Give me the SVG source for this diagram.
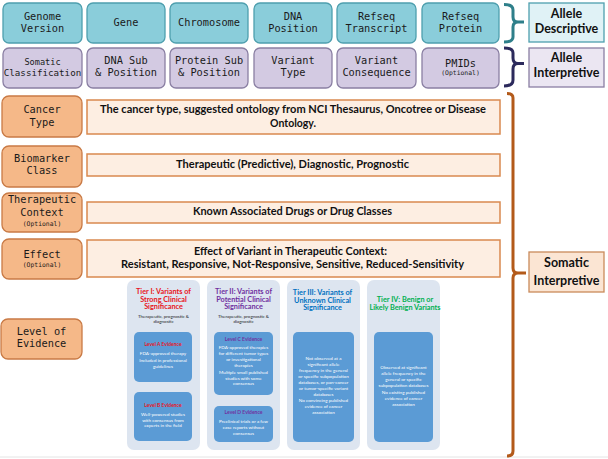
<svg xmlns="http://www.w3.org/2000/svg" width="608" height="459" viewBox="0 0 608 459">
<style>
.mono{font-family:"DejaVu Sans Mono","Liberation Mono",monospace;font-size:10.3px;fill:#1a1a1a;text-anchor:middle}
.opt{font-size:6.4px}
.teal{fill:#8acdda;stroke:#4e9fae;stroke-width:1.3}
.purp{fill:#d3cae2;stroke:#8a7fa3;stroke-width:1.3}
.orng{fill:#f5b888;stroke:#c97a45;stroke-width:1.3}
.wide{fill:#fdeee2;stroke:#d9894f;stroke-width:1.5}
.bold{font-family:Lato,"Liberation Sans",sans-serif;font-weight:bold;font-size:10.5px;fill:#111;text-anchor:middle}
.lbl{font-family:Lato,"Liberation Sans",sans-serif;font-weight:bold;font-size:12.5px;fill:#111;text-anchor:middle}
.br{fill:none;stroke-width:3;stroke-linejoin:round}
.col{fill:#dde5f0}
.ibox{fill:#5b9bd5}
.th{font-family:Lato,"Liberation Sans",sans-serif;font-weight:bold;font-size:7.3px;text-anchor:middle}
.sub{font-family:Lato,"Liberation Sans",sans-serif;font-size:4.5px;fill:#222;text-anchor:middle}
.lv{font-family:Lato,"Liberation Sans",sans-serif;font-weight:bold;font-size:5px;text-anchor:middle}
.wt{font-family:Lato,"Liberation Sans",sans-serif;font-size:4.6px;fill:#fff;text-anchor:middle}
</style>
<rect width="608" height="459" fill="#fff"/>
<line x1="0" y1="457" x2="608" y2="457" stroke="#e4e4e4" stroke-width="1"/>

<!-- Row 1: allele descriptive -->
<g id="genome-version"><rect class="teal" x="3" y="3" width="79" height="40" rx="6"/><text class="mono" x="42.5" y="20">Genome</text><text class="mono" x="42.5" y="32">Version</text></g>
<g id="gene"><rect class="teal" x="87" y="3" width="78" height="40" rx="6"/><text class="mono" x="126" y="26">Gene</text></g>
<g id="chromosome"><rect class="teal" x="170" y="3" width="78" height="40" rx="6"/><text class="mono" x="209" y="26">Chromosome</text></g>
<g id="dna-position"><rect class="teal" x="254" y="3" width="78" height="40" rx="6"/><text class="mono" x="293" y="20">DNA</text><text class="mono" x="293" y="32">Position</text></g>
<g id="refseq-transcript"><rect class="teal" x="337" y="3" width="79" height="40" rx="6"/><text class="mono" x="376.5" y="20">Refseq</text><text class="mono" x="376.5" y="32">Transcript</text></g>
<g id="refseq-protein"><rect class="teal" x="422" y="3" width="77" height="40" rx="6"/><text class="mono" x="460.5" y="20">Refseq</text><text class="mono" x="460.5" y="32">Protein</text></g>

<!-- Row 2: allele interpretive -->
<g id="somatic-classification"><rect class="purp" x="3" y="48" width="79" height="40" rx="6"/><text class="mono" x="42.5" y="65" style="font-size:8.6px">Somatic</text><text class="mono" x="42.5" y="76" style="font-size:9.2px">Classification</text></g>
<g id="dna-sub"><rect class="purp" x="87" y="48" width="78" height="40" rx="6"/><text class="mono" x="126" y="64">DNA Sub</text><text class="mono" x="126" y="76">&amp; Position</text></g>
<g id="protein-sub"><rect class="purp" x="170" y="48" width="78" height="40" rx="6"/><text class="mono" x="209" y="64">Protein Sub</text><text class="mono" x="209" y="76">&amp; Position</text></g>
<g id="variant-type"><rect class="purp" x="254" y="48" width="78" height="40" rx="6"/><text class="mono" x="293" y="64">Variant</text><text class="mono" x="293" y="76">Type</text></g>
<g id="variant-consequence"><rect class="purp" x="337" y="48" width="79" height="40" rx="6"/><text class="mono" x="376.5" y="64">Variant</text><text class="mono" x="376.5" y="76">Consequence</text></g>
<g id="pmids"><rect class="purp" x="422" y="48" width="77" height="40" rx="6"/><text class="mono" x="460.5" y="67">PMIDs</text><text class="mono opt" x="460.5" y="75">(Optional)</text></g>

<!-- Left orange column -->
<g id="cancer-type"><rect class="orng" x="2" y="96" width="80" height="41" rx="7"/><text class="mono" x="42" y="113">Cancer</text><text class="mono" x="42" y="126">Type</text></g>
<g id="biomarker-class"><rect class="orng" x="2" y="146" width="80" height="41" rx="7"/><text class="mono" x="42" y="162">Biomarker</text><text class="mono" x="42" y="174">Class</text></g>
<g id="therapeutic-context"><rect class="orng" x="2" y="193" width="80" height="39" rx="7"/><text class="mono" x="42" y="203">Therapeutic</text><text class="mono" x="42" y="216">Context</text><text class="mono opt" x="42" y="226">(Optional)</text></g>
<g id="effect"><rect class="orng" x="2" y="239" width="80" height="40" rx="7"/><text class="mono" x="42" y="258">Effect</text><text class="mono opt" x="42" y="267">(Optional)</text></g>
<g id="level-of-evidence"><rect class="orng" x="1" y="319" width="81" height="40" rx="7"/><text class="mono" x="41.5" y="335">Level of</text><text class="mono" x="41.5" y="347">Evidence</text></g>

<!-- Wide description boxes -->
<g id="cancer-type-desc"><rect class="wide" x="87" y="100" width="413" height="34"/><text class="bold" x="293" y="113" textLength="386" lengthAdjust="spacingAndGlyphs">The cancer type, suggested ontology from NCI Thesaurus, Oncotree or Disease</text><text class="bold" x="293" y="127">Ontology.</text></g>
<g id="biomarker-class-desc"><rect class="wide" x="87" y="154" width="413" height="22"/><text class="bold" x="292.5" y="168" textLength="233" lengthAdjust="spacingAndGlyphs">Therapeutic (Predictive), Diagnostic, Prognostic</text></g>
<g id="therapeutic-context-desc"><rect class="wide" x="87" y="202" width="413" height="21"/><text class="bold" x="292.5" y="215" textLength="199" lengthAdjust="spacingAndGlyphs">Known Associated Drugs or Drug Classes</text></g>
<g id="effect-desc"><rect class="wide" x="87" y="240" width="413" height="37"/><text class="bold" x="290.5" y="255" textLength="193" lengthAdjust="spacingAndGlyphs">Effect of Variant in Therapeutic Context:</text><text class="bold" x="292.5" y="268" textLength="343" lengthAdjust="spacingAndGlyphs">Resistant, Responsive, Not-Responsive, Sensitive, Reduced-Sensitivity</text></g>

<!-- Tier panel -->
<g id="tier-1">
<rect class="col" x="127" y="280" width="73" height="170" rx="7"/>
<text class="th" x="163.5" y="294" fill="#e8141c">Tier I: Variants of</text>
<text class="th" x="163.5" y="301.5" fill="#e8141c">Strong Clinical</text>
<text class="th" x="163.5" y="309" fill="#e8141c">Significance</text>
<text class="sub" x="163.5" y="317.5">Therapeutic, prognostic &amp;</text>
<text class="sub" x="163.5" y="323">diagnostic</text>
<g id="level-a"><rect class="ibox" x="134" y="332" width="58" height="50" rx="5"/>
<text class="lv" x="163" y="346" fill="#e8141c">Level A Evidence</text>
<text class="wt" x="163" y="355">FDA-approved therapy</text>
<text class="wt" x="163" y="362">Included in professional</text>
<text class="wt" x="163" y="368">guidelines</text></g>
<g id="level-b"><rect class="ibox" x="134" y="392" width="58" height="49" rx="5"/>
<text class="lv" x="163" y="407" fill="#e8141c">Level B Evidence</text>
<text class="wt" x="163" y="416">Well-powered studies</text>
<text class="wt" x="163" y="421.5">with consensus from</text>
<text class="wt" x="163" y="427">experts in the field</text></g>
</g>
<g id="tier-2">
<rect class="col" x="207" y="280" width="73" height="170" rx="7"/>
<text class="th" x="243.5" y="294" fill="#7030a0">Tier II: Variants of</text>
<text class="th" x="243.5" y="301.5" fill="#7030a0">Potential Clinical</text>
<text class="th" x="243.5" y="309" fill="#7030a0">Significance</text>
<text class="sub" x="243.5" y="317.5">Therapeutic, prognostic &amp;</text>
<text class="sub" x="243.5" y="323">diagnostic</text>
<g id="level-c"><rect class="ibox" x="214" y="332" width="59" height="63" rx="5"/>
<text class="lv" x="243.5" y="341" fill="#7030a0">Level C Evidence</text>
<text class="wt" x="243.5" y="349">FDA-approved therapies</text>
<text class="wt" x="243.5" y="355">for different tumor types</text>
<text class="wt" x="243.5" y="361">or investigational</text>
<text class="wt" x="243.5" y="366.5">therapies</text>
<text class="wt" x="243.5" y="374">Multiple small published</text>
<text class="wt" x="243.5" y="379.5">studies with some</text>
<text class="wt" x="243.5" y="385">consensus</text></g>
<g id="level-d"><rect class="ibox" x="214" y="406" width="59" height="36" rx="5"/>
<text class="lv" x="243.5" y="414" fill="#7030a0">Level D Evidence</text>
<text class="wt" x="243.5" y="423">Preclinical trials or a few</text>
<text class="wt" x="243.5" y="429">case reports without</text>
<text class="wt" x="243.5" y="435">consensus</text></g>
</g>
<g id="tier-3">
<rect class="col" x="287" y="280" width="73" height="170" rx="7"/>
<text class="th" x="322.5" y="294.5" fill="#0070c0">Tier III: Variants of</text>
<text class="th" x="322.5" y="302.5" fill="#0070c0">Unknown Clinical</text>
<text class="th" x="322.5" y="310" fill="#0070c0">Significance</text>
<rect class="ibox" x="293" y="332" width="61" height="110" rx="5"/>
<text class="wt" x="323.5" y="360">Not observed at a</text>
<text class="wt" x="323.5" y="366">significant allele</text>
<text class="wt" x="323.5" y="372">frequency in the general</text>
<text class="wt" x="323.5" y="378">or specific subpopulation</text>
<text class="wt" x="323.5" y="384">databases, or pan-cancer</text>
<text class="wt" x="323.5" y="390">or tumor-specific variant</text>
<text class="wt" x="323.5" y="396">databases</text>
<text class="wt" x="323.5" y="402">No convincing published</text>
<text class="wt" x="323.5" y="408">evidence of cancer</text>
<text class="wt" x="323.5" y="414">association</text>
</g>
<g id="tier-4">
<rect class="col" x="367" y="280" width="73" height="170" rx="7"/>
<text class="th" x="405" y="302" fill="#00b050">Tier IV: Benign or</text>
<text class="th" x="405" y="310" fill="#00b050">Likely Benign Variants</text>
<rect class="ibox" x="374" y="332" width="59" height="110" rx="5"/>
<text class="wt" x="403.5" y="369">Observed at significant</text>
<text class="wt" x="403.5" y="375">allele frequency in the</text>
<text class="wt" x="403.5" y="381">general or specific</text>
<text class="wt" x="403.5" y="387">subpopulation databases</text>
<text class="wt" x="403.5" y="394">No existing published</text>
<text class="wt" x="403.5" y="400">evidence of cancer</text>
<text class="wt" x="403.5" y="406">association</text>
</g>

<!-- Brackets (connectors) -->
<g id="connectors">
<path class="br" stroke="#2e7f8a" d="M504,4.5 Q513,4.5 513,10 V17 Q513,22 518,22 H524 M518,22 Q513,22 513,27 V37 Q513,42 504,42"/>
<path class="br" stroke="#2c2a5c" d="M504,48 Q513,48 513,53 V58 Q513,63.5 518,63.5 H524 M518,63.5 Q513,63.5 513,69 V80 Q513,86 504,86"/>
<path class="br" stroke="#b35a1a" d="M507,93.5 Q513,93.5 513,98 V268 Q513,273 518,273 H526 M518,273 Q513,273 513,278 V451 Q513,456 507,456"/>
</g>

<!-- Category labels -->
<g id="allele-descriptive"><rect x="529" y="3" width="75" height="39" fill="#e0f2f6" stroke="#4e9fae" stroke-width="1.3"/><text class="lbl" x="566.5" y="18">Allele</text><text class="lbl" x="566.5" y="33">Descriptive</text></g>
<g id="allele-interpretive"><rect x="529" y="48" width="75" height="39" fill="#ebe6f2" stroke="#8a7fa3" stroke-width="1.3"/><text class="lbl" x="566.5" y="62">Allele</text><text class="lbl" x="566.5" y="77">Interpretive</text></g>
<g id="somatic-interpretive"><rect x="529" y="252" width="75" height="40" fill="#fbe5d3" stroke="#c98a5a" stroke-width="1.3"/><text class="lbl" x="566.5" y="267">Somatic</text><text class="lbl" x="566.5" y="285">Interpretive</text></g>
</svg>
